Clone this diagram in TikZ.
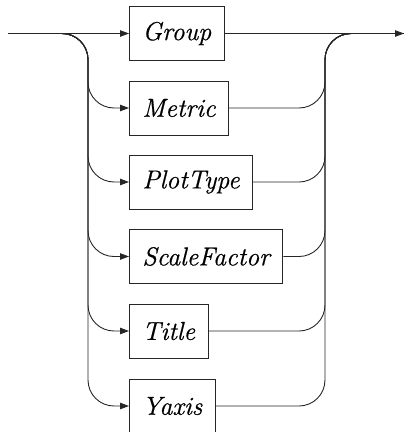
\documentclass[tikz,border=0pt]{standalone}
\usepackage{fontspec}
\newfontfamily\boxfont{Latin Modern Roman}[FakeBold=0.6]
\usetikzlibrary{arrows.meta}
\begin{document}
\begin{tikzpicture}[x=1pt,y=1pt,
  box/.style={draw=black!85,line width=0.9pt,minimum height=54pt,inner xsep=13pt,anchor=west,
    font=\fontsize{26}{30}\boxfont\itshape},
  conn/.style={draw=black!85,line width=0.9pt,rounded corners=26pt},
  arr/.style={conn,-{Triangle[length=9pt,width=6.5pt]}}]
\useasboundingbox (0,0) rectangle (404,-432);
\node[box] (Group) at (129,-33.5) {Group};
\node[box] (Metric) at (129,-108) {Metric};
\node[box] (PlotType) at (129,-182) {PlotType};
\node[box] (ScaleFactor) at (129,-256.5) {ScaleFactor};
\node[box] (Title) at (129,-331) {Title};
\node[box] (Yaxis) at (129,-406) {Yaxis};
\coordinate (in) at (8,-33.5);
\coordinate (out) at (404,-33.5);
\coordinate (L) at (88,0);
\coordinate (R) at (325,0);
\draw[arr] (in) -- (Group.west);
\draw[arr] (Group.east) -- (out);
\foreach \b in {Metric,PlotType,ScaleFactor,Title,Yaxis}{
  \draw[arr] (in) -| (L |- \b.west) -- (\b.west);
  \draw[conn] (\b.east) -| (R |- out) -- (out);
}
\end{tikzpicture}
\end{document}
